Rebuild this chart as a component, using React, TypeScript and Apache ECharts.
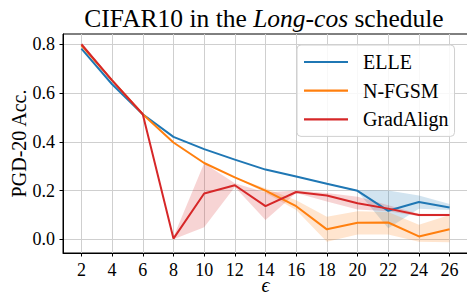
import React, { useEffect, useRef } from "react";
import * as echarts from "echarts";

const epsilons = [2, 4, 6, 8, 10, 12, 14, 16, 18, 20, 22, 24, 26];
const yTicks = [0.0, 0.2, 0.4, 0.6, 0.8];

const elle = [0.782, 0.636, 0.513, 0.42, 0.37, 0.327, 0.286, 0.258, 0.228, 0.199, 0.117, 0.153, 0.131];
const elleLow = [0.782, 0.636, 0.513, 0.42, 0.37, 0.327, 0.286, 0.256, 0.226, 0.196, 0.045, 0.125, 0.12];
const elleHigh = [0.782, 0.636, 0.513, 0.42, 0.37, 0.327, 0.286, 0.26, 0.23, 0.202, 0.2, 0.18, 0.145];

const nfgsm = [0.795, 0.652, 0.513, 0.397, 0.313, 0.254, 0.2, 0.136, 0.041, 0.068, 0.069, 0.012, 0.041];
const nfgsmLow = [0.795, 0.652, 0.513, 0.397, 0.313, 0.254, 0.19, 0.12, -0.01, 0.02, 0.02, -0.01, -0.012];
const nfgsmHigh = [0.795, 0.652, 0.513, 0.397, 0.313, 0.254, 0.21, 0.16, 0.093, 0.115, 0.112, 0.06, 0.1];

const gradAlign = [0.8, 0.652, 0.513, 0.003, 0.188, 0.222, 0.136, 0.194, 0.18, 0.148, 0.126, 0.1, 0.1];
const gradAlignLow = [0.8, 0.652, 0.513, 0.0, 0.05, 0.215, 0.079, 0.19, 0.155, 0.122, 0.115, 0.095, 0.095];
const gradAlignHigh = [0.8, 0.652, 0.513, 0.01, 0.312, 0.23, 0.192, 0.2, 0.19, 0.175, 0.14, 0.105, 0.105];

const FONT = "'Liberation Serif', serif";

function bandSeries(name: string, low: number[], high: number[], color: string) {
  const data = epsilons.map((e, i) => [e, low[i], high[i]]);
  return {
    type: "custom",
    name,
    data,
    z: 1,
    silent: true,
    clip: true,
    encode: { x: 0, y: [1, 2] },
    renderItem: (params: any, api: any) => {
      if (params.dataIndex !== 0) return null;
      const top = data.map((d) => api.coord([d[0], d[2]]));
      const bottom = data.map((d) => api.coord([d[0], d[1]])).reverse();
      return {
        type: "polygon",
        shape: { points: top.concat(bottom) },
        style: { fill: color, stroke: "none" },
      };
    },
  };
}

function lineSeries(name: string, values: number[], color: string) {
  return {
    type: "line",
    name,
    data: epsilons.map((e, i) => [e, values[i]]),
    showSymbol: false,
    symbol: "none",
    z: 3,
    lineStyle: { color, width: 2 },
    itemStyle: { color },
  };
}

const tickRich = { t: { fontFamily: FONT, fontSize: 18, color: "#000" } };

export default function App() {
  const ref = useRef<HTMLDivElement>(null);
  useEffect(() => {
    const chart = echarts.init(ref.current!, null, { renderer: "svg" });
    chart.setOption({
      animation: false,
      backgroundColor: "#ffffff",
      textStyle: { fontFamily: FONT },
      title: {
        text: "{a|CIFAR10 in the }{b|Long-cos}{a| schedule}",
        left: 259,
        top: 0,
        textAlign: "center",
        textStyle: {
          fontFamily: FONT,
          fontWeight: "normal",
          rich: {
            a: { fontFamily: FONT, fontSize: 25.5, fontWeight: "normal", color: "#000" },
            b: { fontFamily: FONT, fontSize: 25.5, fontWeight: "normal", fontStyle: "italic", color: "#000" },
          },
        },
      },
      grid: {
        left: 63,
        top: 34,
        right: -1,
        bottom: 40,
        show: true,
        borderColor: "#000",
        borderWidth: 1,
        backgroundColor: "transparent",
        outerBoundsMode: "none",
        containLabel: false,
      },
      legend: {
        orient: "vertical",
        left: 297,
        top: 45,
        data: ["ELLE", "N-FGSM", "GradAlign"],
        icon: "rect",
        itemWidth: 44,
        itemHeight: 2.2,
        itemGap: 6.7,
        padding: [6, 6, 6, 7],
        backgroundColor: "rgba(255,255,255,0.85)",
        borderColor: "#d0d0d0",
        borderWidth: 1,
        borderRadius: 4,
        textStyle: {
          fontFamily: FONT,
          fontSize: 20,
          color: "#000",
          lineHeight: 22,
          padding: [0, 0, 0, 10],
        },
      },
      xAxis: {
        type: "value",
        min: 0.8,
        max: 27.2,
        name: "\u03f5",
        nameLocation: "middle",
        nameGap: 25,
        nameMoveOverlap: false,
        nameTextStyle: { fontFamily: FONT, fontSize: 20, fontStyle: "italic", color: "#000", lineHeight: 14 },
        axisLine: { show: true, onZero: false, lineStyle: { color: "#000", width: 1 } },
        axisTick: { show: true, inside: false, length: 3.5, lineStyle: { color: "#000" }, customValues: epsilons },
        axisLabel: {
          fontFamily: FONT,
          fontSize: 18,
          color: "#000",
          margin: 8,
          customValues: epsilons,
          formatter: (v: number) => "{t|" + String(v) + "}",
          rich: tickRich,
        },
        splitLine: { show: true, lineStyle: { color: "#cfcfcf", width: 1 } },
      },
      yAxis: {
        type: "value",
        min: -0.056,
        max: 0.842,
        name: "PGD-20 Acc.",
        nameLocation: "middle",
        nameGap: 34,
        nameMoveOverlap: false,
        nameTextStyle: { fontFamily: FONT, fontSize: 20, color: "#000" },
        axisLine: { show: true, onZero: false, lineStyle: { color: "#000", width: 1 } },
        axisTick: { show: true, inside: false, length: 3.5, lineStyle: { color: "#000" }, customValues: yTicks },
        axisLabel: {
          fontFamily: FONT,
          fontSize: 18,
          color: "#000",
          margin: 8,
          customValues: yTicks,
          formatter: (v: number) => "{t|" + v.toFixed(1) + "}",
          rich: tickRich,
        },
        splitLine: { show: true, lineStyle: { color: "#cfcfcf", width: 1 } },
      },
      series: [
        bandSeries("ELLE band", elleLow, elleHigh, "rgba(31,119,180,0.2)"),
        bandSeries("N-FGSM band", nfgsmLow, nfgsmHigh, "rgba(255,127,14,0.2)"),
        bandSeries("GradAlign band", gradAlignLow, gradAlignHigh, "rgba(214,39,40,0.2)"),
        lineSeries("ELLE", elle, "#1f77b4"),
        lineSeries("N-FGSM", nfgsm, "#ff7f0e"),
        lineSeries("GradAlign", gradAlign, "#d62728"),
      ],
    });
    return () => chart.dispose();
  }, []);
  return (
    <div
      ref={ref}
      style={{ position: "fixed", left: 0, top: 0, width: 467, height: 293 }}
    />
  );
}
